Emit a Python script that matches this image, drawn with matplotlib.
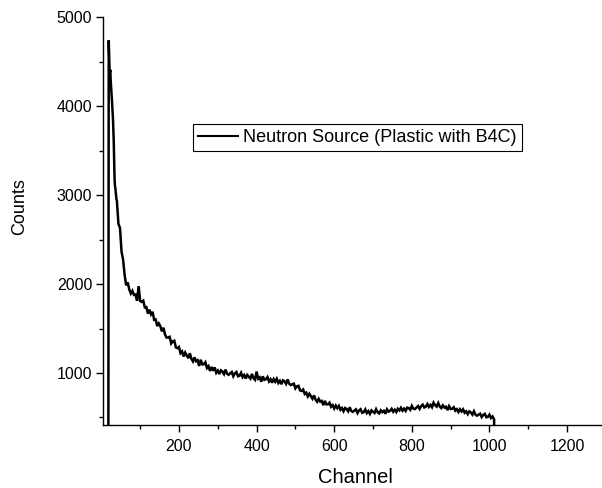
import numpy as np
import matplotlib
matplotlib.use("Agg")
import matplotlib.pyplot as plt
from matplotlib.ticker import MultipleLocator

plt.rcParams['font.family'] = ['Liberation Sans', 'DejaVu Sans']

# ---- data ----
head_channels = [0, 18] + list(range(19, 40))
head_counts = [0, 0, 4740, 4560, 4420, 4380, 4410, 4290, 4210, 4150, 4090, 4010,
               3950, 3850, 3720, 3590, 3400, 3180, 3110, 3080, 3040, 2990, 2950]

body_channels = list(range(40, 1013, 4))
body_counts = [
    2936, 2676, 2632, 2364, 2274, 2100, 1986, 2018, 1938, 1894,
    1924, 1878, 1882, 1812, 1976, 1809, 1800, 1813, 1738, 1741,
    1667, 1712, 1659, 1688, 1598, 1601, 1527, 1557, 1526, 1468,
    1509, 1434, 1398, 1400, 1407, 1332, 1356, 1363, 1288, 1279,
    1293, 1223, 1243, 1185, 1230, 1198, 1166, 1222, 1159, 1130,
    1175, 1132, 1144, 1079, 1149, 1097, 1098, 1121, 1056, 1077,
    1023, 1068, 1025, 1063, 1002, 1027, 988, 1030, 1017, 987,
    1038, 991, 980, 996, 1011, 963, 996, 1011, 963, 969,
    1002, 954, 977, 937, 978, 957, 937, 989, 942, 923,
    1016, 936, 951, 902, 962, 923, 930, 954, 905, 929,
    890, 932, 902, 935, 887, 912, 874, 917, 906, 877,
    928, 879, 864, 873, 880, 827, 850, 856, 804, 798,
    814, 764, 778, 736, 766, 738, 710, 748, 699, 676,
    709, 678, 686, 638, 686, 647, 648, 666, 620, 638,
    600, 634, 604, 630, 586, 606, 570, 606, 595, 569,
    615, 573, 563, 577, 591, 549, 579, 593, 552, 559,
    590, 549, 572, 540, 580, 564, 550, 593, 558, 545,
    580, 560, 575, 541, 591, 565, 574, 597, 564, 587,
    561, 598, 579, 609, 576, 599, 573, 610, 605, 586,
    630, 598, 594, 611, 628, 596, 627, 644, 612, 621,
    651, 618, 641, 615, 666, 637, 622, 662, 623, 605,
    636, 611, 621, 582, 627, 595, 598, 615, 576, 593,
    561, 592, 567, 591, 552, 569, 537, 568, 557, 532,
    570, 531, 520, 531, 542, 504, 529, 540, 502, 506,
    531, 493, 511, 479,
]

tail_channels = [1013, 1023]
tail_counts = [0, 0]

channels = np.array(head_channels + body_channels + tail_channels)
counts = np.array(head_counts + body_counts + tail_counts)

series_label = "Neutron Source (Plastic with B4C)"
x_label = "Channel"
y_label = "Counts"

# ---- figure ----
W, H = 602, 488
fig = plt.figure(figsize=(W / 100, H / 100), dpi=100)
left, right, top, bottom = 103.3, 602, 17.3, 425
ax = fig.add_axes([left / W, 1 - bottom / H, (right - left) / W, (bottom - top) / H])

ax.plot(channels, counts, color='black', lw=1.8, label=series_label,
        solid_joinstyle='miter')

ax.set_xlim(5, 1290)
ax.set_ylim(415, 5000)

ax.spines['top'].set_visible(False)
ax.spines['right'].set_visible(False)
for s in ('left', 'bottom'):
    ax.spines[s].set_linewidth(1.0)

ax.xaxis.set_major_locator(MultipleLocator(200))
ax.xaxis.set_minor_locator(MultipleLocator(100))
ax.yaxis.set_major_locator(MultipleLocator(1000))
ax.yaxis.set_minor_locator(MultipleLocator(500))
ax.tick_params(which='major', direction='out', length=5, width=1.0,
               labelsize=11.5, pad=3)
ax.tick_params(which='minor', direction='out', length=3, width=1.0)
ax.tick_params(axis='x', which='major', pad=5)

ax.set_xlabel(x_label, fontsize=14.5)
ax.set_ylabel(y_label, fontsize=13)
ax.xaxis.set_label_coords((355 - left) / (right - left), (bottom - 468) / (bottom - top))
ax.yaxis.set_label_coords((28 - left) / (right - left), (bottom - 207) / (bottom - top))

leg = ax.legend(loc='upper left', bbox_to_anchor=(193 / W, 1 - 124 / H),
                bbox_transform=fig.transFigure, fontsize=13, frameon=True,
                fancybox=False, shadow=False, borderpad=0.28, borderaxespad=0,
                handlelength=2.2, handletextpad=0.3)
leg.get_frame().set_edgecolor('black')
leg.get_frame().set_linewidth(0.8)
leg.get_frame().set_alpha(1)
for line in leg.get_lines():
    line.set_linewidth(1.5)

fig.savefig('out.png', dpi=100)
